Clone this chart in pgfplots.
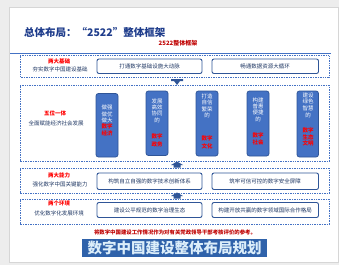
\documentclass[border=0pt]{standalone}
\usepackage{pgfplots}
\pgfplotsset{compat=1.18}
\usepackage{fontspec}
\setmainfont{Noto Sans CJK SC}
\definecolor{bggray}{HTML}{EDEDED}
\definecolor{cardgray}{HTML}{D6D6D6}
\definecolor{navy}{HTML}{1F3D8C}
\definecolor{dblue}{HTML}{2F5597}
\definecolor{mblue}{HTML}{4472C4}
\definecolor{txt}{HTML}{203864}
\definecolor{dred}{HTML}{C00000}
\definecolor{bred}{HTML}{FF0000}
\definecolor{banner}{HTML}{2F62AA}
\definecolor{bannertxt}{HTML}{DCEEFA}
\newcommand\fs[2]{\fontsize{#1bp}{#2bp}\selectfont}
\begin{document}
\begin{tikzpicture}
\begin{axis}[width=339bp,height=265bp,scale only axis,
  xmin=0,xmax=339,ymin=0,ymax=265,y dir=reverse,
  axis lines=none,ticks=none,clip=false]
% background and card
\addplot[fill=bggray,draw=none] coordinates {(0,0)(339,0)(339,265)(0,265)} -- cycle;
\addplot[fill=white,draw=cardgray,line width=0.6bp] coordinates {(9.5,7)(338.7,7)(338.7,262)(9.5,262)} -- cycle;
% title
\node[anchor=west,text=navy,inner sep=0pt,font={\fs{10.5}{12}\bfseries}] at (axis cs:24,32) {总体布局：“2522”整体框架};
\node[text=dred,inner sep=0pt,font={\fs{6}{7}\bfseries}] at (axis cs:178,43.5) {2522整体框架};
\addplot[draw=mblue,line width=1bp] coordinates {(10,54)(331,54)};
% dashed outer boxes
\addplot[draw=mblue,line width=1bp,dash pattern=on 1bp off 0.7bp] coordinates {(20,56)(329,56)(329,77)(20,77)} -- cycle;
\addplot[draw=mblue,line width=1bp,dash pattern=on 1bp off 0.7bp] coordinates {(20,85)(329,85)(329,161)(20,161)} -- cycle;
\addplot[draw=mblue,line width=1bp,dash pattern=on 1bp off 0.7bp] coordinates {(20,168)(329,168)(329,193)(20,193)} -- cycle;
\addplot[draw=mblue,line width=1bp,dash pattern=on 1bp off 0.7bp] coordinates {(20,199)(329,199)(329,224)(20,224)} -- cycle;
% arrows
\fill[dblue] (axis cs:171,79) -- (axis cs:183,79) -- (axis cs:183,81) -- (axis cs:180,81) -- (axis cs:177,85) -- (axis cs:174,81) -- (axis cs:171,81) -- cycle;
\fill[dblue] (axis cs:177,161.5) -- (axis cs:183,165) -- (axis cs:180.5,165) -- (axis cs:180.5,167.5) -- (axis cs:173.5,167.5) -- (axis cs:173.5,165) -- (axis cs:171,165) -- cycle;
\fill[dblue] (axis cs:177,192.5) -- (axis cs:183,196) -- (axis cs:180.5,196) -- (axis cs:180.5,198.5) -- (axis cs:173.5,198.5) -- (axis cs:173.5,196) -- (axis cs:171,196) -- cycle;
\tikzset{lab/.style={inner sep=0pt,font={\fs{5.5}{6}}},
  rlab/.style={inner sep=0pt,text=bred,font={\fs{5.5}{6}\bfseries}},
  box/.style={dblue,line width=0.9bp,fill=white,rounded corners=2bp},
  col/.style={dblue,line width=0.8bp,fill=mblue,rounded corners=2.5bp},
  wcol/.style={text=white,inner sep=0pt,align=center,font={\fs{5.5}{#1}}},
  rcol/.style={text=bred,inner sep=0pt,align=center,font={\fs{5.5}{#1}\bfseries}}}
% row 1
\node[rlab] at (axis cs:59,61) {两大基础};
\node[lab,text=txt] at (axis cs:60,69.5) {夯实数字中国建设基础};
\draw[box] (axis cs:97,59) rectangle (axis cs:202,73.5);
\draw[box] (axis cs:212,59) rectangle (axis cs:318.5,73.5);
\node[lab,text=txt] at (axis cs:149.5,66.3) {打通数字基础设施大动脉};
\node[lab,text=txt] at (axis cs:265,66.3) {畅通数据资源大循环};
% row 2
\node[rlab] at (axis cs:55,113.5) {五位一体};
\node[lab,text=txt] at (axis cs:56,123) {全面赋能经济社会发展};
\draw[col] (axis cs:96,93.5) rectangle (axis cs:118,157);
\draw[col] (axis cs:146,91) rectangle (axis cs:168,155.5);
\draw[col] (axis cs:196,91) rectangle (axis cs:218,156);
\draw[col] (axis cs:247,91) rectangle (axis cs:269,156);
\draw[col] (axis cs:297,91) rectangle (axis cs:318.5,157);
\node[wcol=6.3] at (axis cs:107,114) {做强\\做优\\做大};
\node[rcol=6.5] at (axis cs:107,130) {数字\\经济};
\node[wcol=6.3] at (axis cs:157,110.5) {发展\\高效\\协同\\的};
\node[rcol=8] at (axis cs:157,140.5) {数字\\政务};
\node[wcol=6.3] at (axis cs:207,106) {打造\\自信\\繁荣\\的};
\node[rcol=8] at (axis cs:207,142) {数字\\文化};
\node[wcol=6.3] at (axis cs:258,109.5) {构建\\普惠\\便捷\\的};
\node[rcol=7] at (axis cs:258,139) {数字\\社会};
\node[wcol=6.6] at (axis cs:308,105) {建设\\绿色\\智慧\\的};
\node[rcol=6.5] at (axis cs:308,137) {数字\\生态\\文明};
% row 3
\node[rlab] at (axis cs:59,175.5) {两大能力};
\node[lab,text=txt] at (axis cs:60,184.5) {强化数字中国关键能力};
\draw[box] (axis cs:97,173) rectangle (axis cs:202,189.5);
\draw[box] (axis cs:212,173) rectangle (axis cs:318.5,189.5);
\node[lab,text=txt] at (axis cs:149.5,181.3) {构筑自立自强的数字技术创新体系};
\node[lab,text=txt] at (axis cs:265,181.3) {筑牢可信可控的数字安全屏障};
% row 4
\node[rlab] at (axis cs:59,203.5) {两个环境};
\node[lab,text=txt] at (axis cs:59,213) {优化数字化发展环境};
\draw[box] (axis cs:97,202.5) rectangle (axis cs:202,217.5);
\draw[box] (axis cs:212,202.5) rectangle (axis cs:318.5,217.5);
\node[lab,text=txt] at (axis cs:149.5,210) {建设公平规范的数字治理生态};
\node[lab,text=txt] at (axis cs:265,210) {构建开放共赢的数字领域国际合作格局};
% note
\node[text=dred,inner sep=0pt,font={\fs{5.4}{6}\bfseries}] at (axis cs:175,232) {将数字中国建设工作情况作为对有关党政领导干部考核评价的参考。};
% banner
\fill[banner] (axis cs:82,239) rectangle (axis cs:267,256.5);
\node[text=bannertxt,inner sep=0pt,font={\fs{14.5}{16}\bfseries}] at (axis cs:174.5,247.8) {数字中国建设整体布局规划};
\end{axis}
\end{tikzpicture}
\end{document}
